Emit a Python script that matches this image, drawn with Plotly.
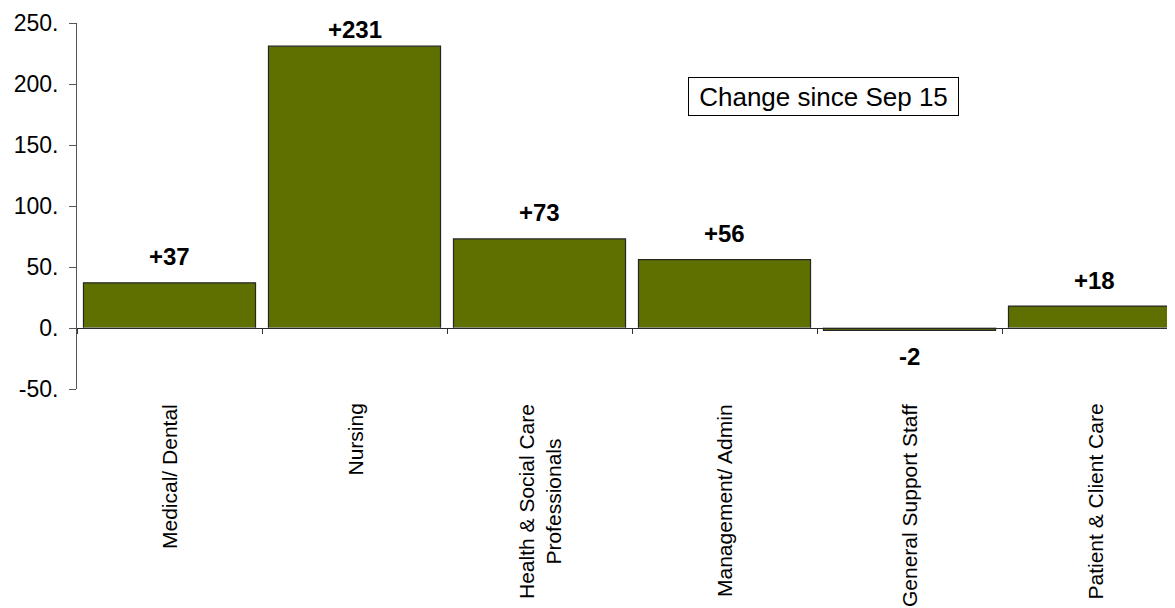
import plotly.graph_objects as go

categories = ["Medical/ Dental", "Nursing", "Health & Social Care<br>Professionals",
              "Management/ Admin", "General Support Staff", "Patient & Client Care"]
values = [37, 231, 73, 56, -2, 18]
value_labels = ["+37", "+231", "+73", "+56", "-2", "+18"]
y_tickvals = [-50, 0, 50, 100, 150, 200, 250]
y_ticktext = ["-50.", "0.", "50.", "100.", "150.", "200.", "250."]
box_text = "Change since Sep 15"

FONT = "Arial, Liberation Sans, sans-serif"
BAR_COLOR = "#5f7000"

# page has an 8px body margin at top/left; figure sized so it reaches the window edges
W, H = 1167, 600
ml, mt, mb = 69, 15, 219
plot_h = H - mt - mb
ymin, ymax = -50, 250
px_per_unit = plot_h / (ymax - ymin)
cat_px = 185
x_end = -0.5 + (W - ml) / cat_px

fig = go.Figure()
fig.add_trace(go.Bar(
    x=categories, y=values,
    marker=dict(color=BAR_COLOR, line=dict(color="#262626", width=1.2)),
    width=0.93, hoverinfo="skip", showlegend=False,
))
fig.add_trace(go.Bar(x=categories, y=[0] * len(categories), xaxis="x2",
                     marker=dict(color="rgba(0,0,0,0)"), showlegend=False, hoverinfo="skip"))

off = 26 / px_per_unit
anns = []
for c, v, t in zip(categories, values, value_labels):
    if v >= 0:
        yy = min(v + off, ymax - 5.5)
    else:
        yy = v - off
    anns.append(dict(x=c, y=yy, xref="x", yref="y", text=f"<b>{t}</b>", showarrow=False,
                     font=dict(family=FONT, size=24, color="black"), yanchor="middle"))
for c in categories:
    anns.append(dict(x=c, y=ymin, xref="x", yref="y", yshift=-13, text=c, showarrow=False,
                     textangle=-90, align="center", yanchor="top", xanchor="center",
                     font=dict(family=FONT, size=21, color="black")))
anns.append(dict(x=(815.5 - ml) / (W - ml), y=(H - mb - 88.5) / plot_h, xref="paper", yref="paper",
                 text=box_text, showarrow=False, font=dict(family=FONT, size=26, color="black"),
                 bordercolor="black", borderwidth=1, borderpad=3, bgcolor="white",
                 width=263, height=31, xanchor="center", yanchor="middle"))

fig.update_layout(
    width=W, height=H,
    margin=dict(l=ml, r=0, t=mt, b=mb, pad=0),
    paper_bgcolor="white", plot_bgcolor="white",
    bargap=0.07,
    annotations=anns,
    xaxis=dict(type="category", range=[-0.5, x_end], showticklabels=False, showline=False,
               ticks="", showgrid=False, zeroline=False, fixedrange=True),
    xaxis2=dict(type="category", range=[-0.5, x_end], overlaying="x", anchor="free",
                position=(0 - ymin) / (ymax - ymin), side="bottom",
                showticklabels=False, showline=True, linecolor="#2a2a2a", linewidth=1,
                ticks="outside", ticklen=5, tickcolor="#333333", tickson="boundaries",
                showgrid=False, zeroline=False),
    yaxis=dict(range=[ymin, ymax], tickvals=y_tickvals, ticktext=y_ticktext,
               showline=True, linecolor="#555555", linewidth=1,
               ticks="outside", ticklen=7, tickcolor="#555555", ticklabelstandoff=6,
               showgrid=False, zeroline=False,
               tickfont=dict(family=FONT, size=23, color="black")),
)

fig.write_html("out.html")
